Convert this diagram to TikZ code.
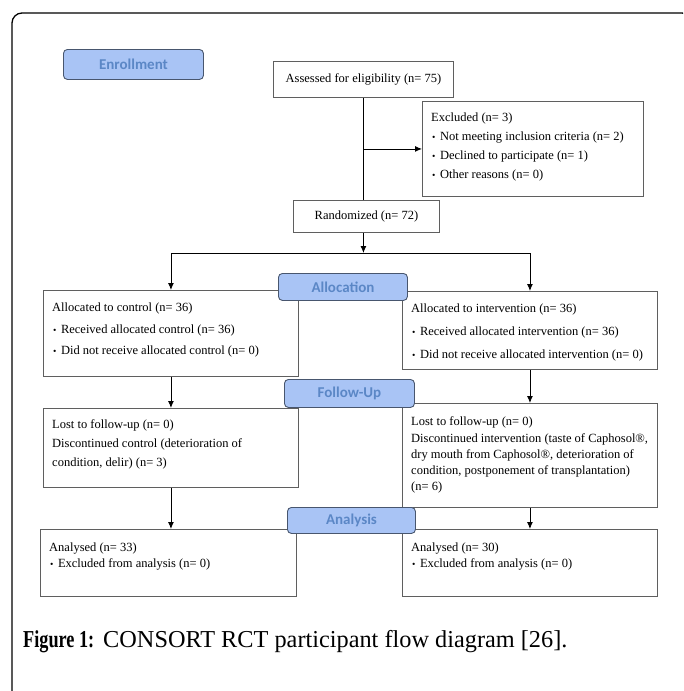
\documentclass[tikz,border=0pt]{standalone}
\usepackage{fontspec}
\setmainfont{Liberation Serif}
\newfontfamily\calib{Carlito}
\usetikzlibrary{arrows.meta}
\usetikzlibrary{math}
\definecolor{tagfill}{RGB}{169,196,245}
\definecolor{tagtext}{RGB}{91,135,198}
\definecolor{tagline}{RGB}{72,86,110}
\definecolor{boxline}{RGB}{95,95,95}

\newcommand{\bull}{\hspace*{1pt}{\fontsize{9.5}{9.5}\selectfont •}\hspace*{4.5pt}}

\begin{document}
\begin{tikzpicture}[x=1pt,y=-1pt,
  box/.style={draw=boxline, line width=0.9pt, anchor=north west, inner sep=0pt, font=\fontsize{12.5}{19}\selectfont},
  boxtext/.style={anchor=north west, align=left, inner sep=0pt, font=\fontsize{12.5}{19}\selectfont},
  tag/.style={draw=tagline, fill=tagfill, text=tagtext, line width=0.9pt, rounded corners=4pt, anchor=north west, inner sep=0pt, font=\calib\bfseries\fontsize{15}{18}\selectfont},
  conn/.style={line width=0.9pt},
  tip/.style={-{Latex[length=7pt,width=6pt]}}]
\tikzmath{
\colL=43; \colR=402;
\colW=255;
}
\path[use as bounding box] (0,0) rectangle (683,691);
\clip (0,0) rectangle (683,691);
\draw[line width=1.3pt, rounded corners=10pt] (12,13) rectangle (692,720);

% enrollment
\node[box, minimum width=180, minimum height=36] (assess) at (273,61) {Assessed for eligibility (n= 75)};
\node[box, minimum width=221, minimum height=95] (excl) at (422,101) {};
\node[boxtext] (excltxt) at ([shift={(9,12)}]excl.north west) {Excluded (n= 3)\\
  \bull Not meeting inclusion criteria (n= 2)\\
  \bull Declined to participate (n= 1)\\
  \bull Other reasons (n= 0)};
\node[box, minimum width=146, minimum height=32] (rand) at (293,200) {Randomized (n= 72)};

% allocation
\node[box, minimum width=\colW, minimum height=86] (ctrl) at (\colL,290) {};
\node[boxtext] (ctrltxt) at ([shift={(9,13)}]ctrl.north west) {Allocated to control (n= 36)\\[3pt]
  \bull Received allocated control (n= 36)\\[2pt]
  \bull Did not receive allocated control (n= 0)};
\node[box, minimum width=\colW, minimum height=78] (int) at (\colR,291) {};
\node[boxtext] (inttxt) at ([shift={(9,13)}]int.north west) {Allocated to intervention (n= 36)\\[4pt]
  \bull Received allocated intervention (n= 36)\\[4pt]
  \bull Did not receive allocated intervention (n= 0)};

% follow-up
\node[box, minimum width=\colW, minimum height=79] (ctrlfu) at (\colL,408) {};
\node[boxtext] (ctrlfutxt) at ([shift={(9,11)}]ctrlfu.north west) {Lost to follow-up (n= 0)\\
  Discontinued control (deterioration of\\
  condition, delir) (n= 3)};
\node[box, minimum width=\colW, minimum height=104] (intfu) at (\colR,403) {};
\node[boxtext] (intfutxt) at ([shift={(9,13)}]intfu.north west) {Lost to follow-up (n= 0)\\[-2pt]
  Discontinued intervention (taste of Caphosol®,\\[-2.5pt]
  dry mouth from Caphosol®, deterioration of\\[-3pt]
  condition, postponement of transplantation)\\[-3pt]
  (n= 6)};

% analysis
\node[box, minimum width=256, minimum height=67] (ctrlan) at (40,529) {};
\node[boxtext] (ctrlantxt) at ([shift={(9,14)}]ctrlan.north west) {Analysed (n= 33)\\[-3pt]
  \bull Excluded from analysis (n= 0)};
\node[box, minimum width=\colW, minimum height=67] (intan) at (\colR,529) {};
\node[boxtext] (intantxt) at ([shift={(9,14)}]intan.north west) {Analysed (n= 30)\\[-3pt]
  \bull Excluded from analysis (n= 0)};

% connectors
\coordinate (split) at (assess.south |- 0,253);
\draw[conn] (assess.south) -- (assess.south |- rand.north);
\draw[conn,tip] (assess.south |- excl.west) -- (excl.west);
\draw[conn,tip] (split |- rand.south) -- (split);
\draw[conn,tip] (split) -| (ctrl.north);
\draw[conn,tip] (split) -| (int.north);
\draw[conn,tip] (ctrl.south) -- (ctrlfu.north);
\draw[conn,tip] (int.south) -- (intfu.north);
\draw[conn,tip] (ctrlfu.south) -- (ctrlfu.south |- ctrlan.north);
\draw[conn,tip] (intfu.south) -- (intan.north);

% stage tags
\foreach \nm/\x/\y/\w/\h/\txt in {enrol/63/49/140/30/Enrollment, alloc/278/273/129/27/Allocation,
    fu/284/379/130/28/Follow-Up, an/287/507/128/26/Analysis}{
  \node[tag, minimum width=\w, minimum height=\h] (\nm) at (\x,\y) {\txt};
}

\node[anchor=base west, inner sep=0pt, font=\fontsize{24.3}{28}\selectfont] (caption) at (23,647)
  {\scalebox{0.75}[1]{\textbf{Figure 1:}}\hspace{9pt}CONSORT RCT participant flow diagram [26].};
\end{tikzpicture}
\end{document}
